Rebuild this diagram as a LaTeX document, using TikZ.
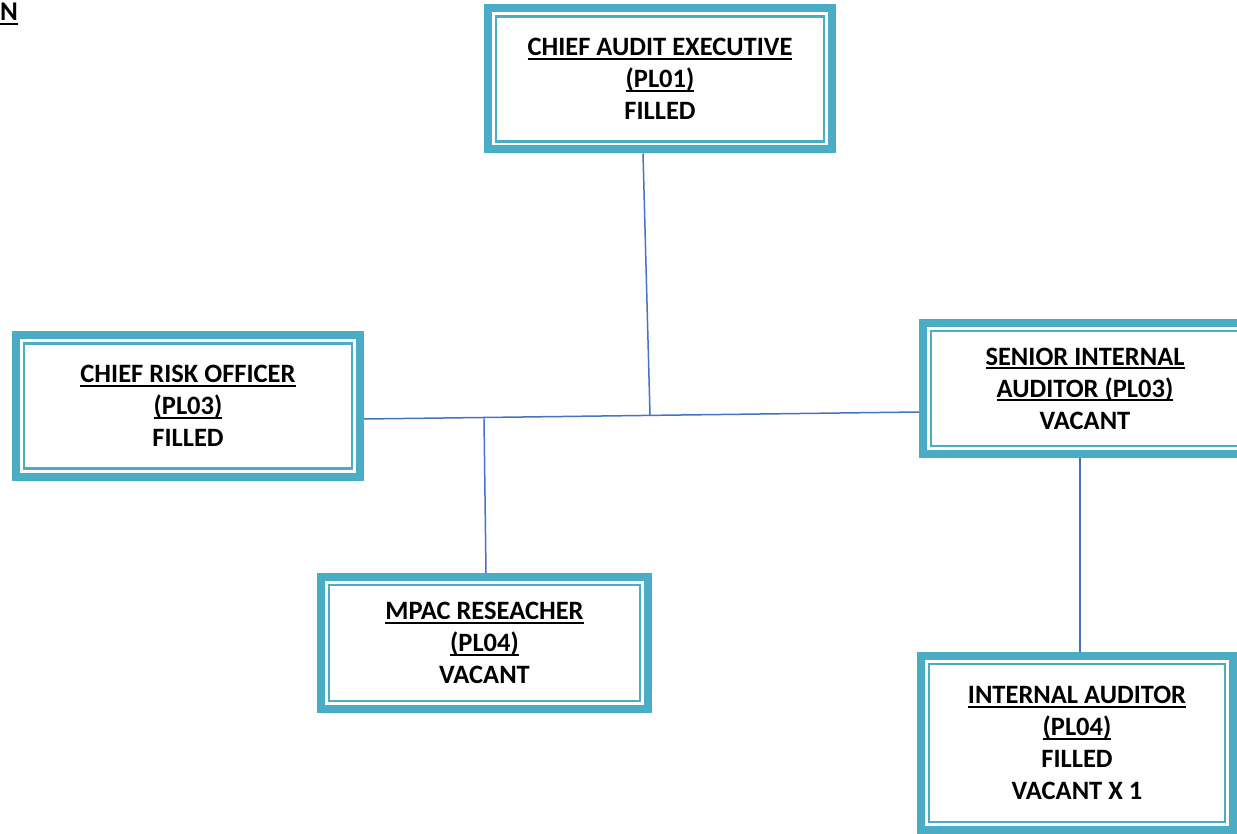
\documentclass[tikz,border=0pt]{standalone}
\usepackage{fontspec}
\setmainfont{Carlito}
\newcommand{\hdr}[1]{\setbox0\hbox{#1}\rlap{\rule[-4.3pt]{\wd0}{2pt}}\box0}
\definecolor{boxblue}{RGB}{75,172,198}
\definecolor{linkblue}{RGB}{68,114,196}
\tikzset{
  post/.style={draw=boxblue, line width=8pt, fill=white, inner sep=0pt, align=center,
    font=\bfseries\fontsize{26.5}{32}\selectfont,
    path picture={\draw[boxblue, line width=2.5pt]
      ([shift={(8pt,-8pt)}]path picture bounding box.north west) rectangle
      ([shift={(-8pt,8pt)}]path picture bounding box.south east);}},
  link/.style={draw=linkblue, line width=1.5pt}
}
\begin{document}
\begin{tikzpicture}[x=1pt,y=-1pt]
      \useasboundingbox (0,0) rectangle (1237,834);
      \node[anchor=base west, inner sep=0pt, font=\bfseries\fontsize{27}{32}\selectfont] (ttl) at (0,20.5) {\hdr{N}};
      \node[post, minimum width=344pt, minimum height=141pt] (cae) at (660,79)
        {\hdr{CHIEF AUDIT EXECUTIVE}\\ \hdr{(PL01)}\\ FILLED};
      \node[post, minimum width=344pt, minimum height=141pt] (cro) at (188,406)
        {\hdr{CHIEF RISK OFFICER}\\ \hdr{(PL03)}\\ FILLED};
      \node[post, minimum width=324pt, minimum height=131pt] (sia) at (1085,388.5)
        {\hdr{SENIOR INTERNAL}\\ \hdr{AUDITOR (PL03)}\\ VACANT};
      \node[post, minimum width=327pt, minimum height=132pt] (mpac) at (484.5,643)
        {\hdr{MPAC RESEACHER}\\ \hdr{(PL04)}\\ VACANT};
      \node[post, minimum width=312pt, minimum height=174pt] (ia) at (1077,743)
        {\hdr{INTERNAL AUDITOR}\\ \hdr{(PL04)}\\ FILLED\\ VACANT X 1};
      \coordinate (hub) at (650,415);
      \coordinate (join) at (484,418.5);
      \draw[link] ([xshift=-17pt]cae.south) -- (hub);
      \draw[link] ([yshift=-13pt]cro.east) -- ([yshift=-23.5pt]sia.west);
      \draw[link] (join) -- ([xshift=1.5pt]mpac.north);
      \draw[link] ([xshift=-5pt]sia.south) -- ([xshift=3pt]ia.north);
\end{tikzpicture}
\end{document}
